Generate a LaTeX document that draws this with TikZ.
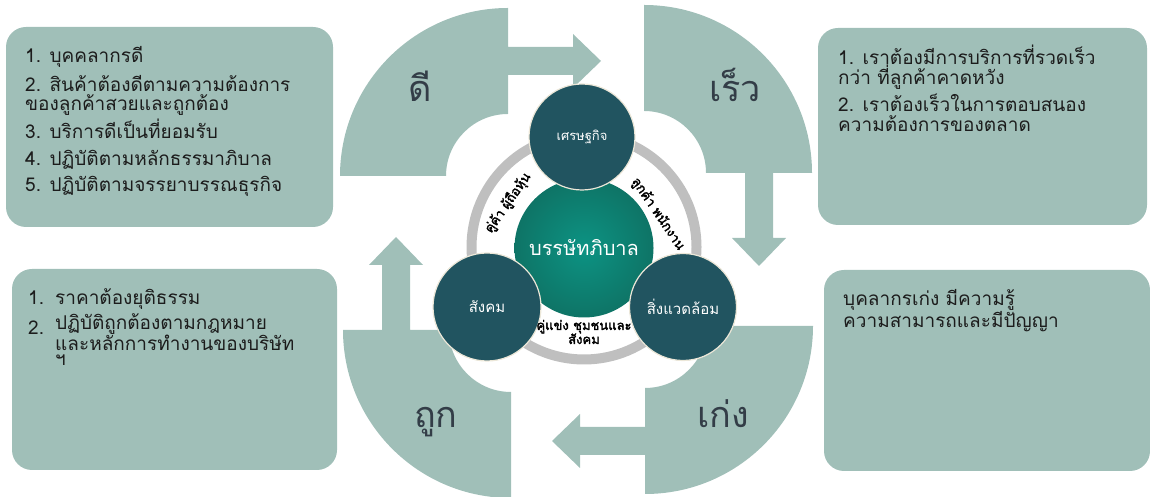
\documentclass[tikz,border=0pt]{standalone}
\usepackage{fontspec}
\newfontfamily\thaifont[Script=Thai]{Loma}
\newfontfamily\thaiheavy[Script=Thai, FakeBold=2.5]{Loma}
\definecolor{sage}{HTML}{A0BFB8}
\definecolor{deep}{HTML}{215460}
\definecolor{hubin}{HTML}{0C9383}
\definecolor{hubout}{HTML}{0E7466}
\definecolor{ringgray}{HTML}{BFBFBF}
\definecolor{ink}{HTML}{1C1C1C}
\definecolor{labelink}{HTML}{333D47}
\definecolor{rim}{HTML}{ECE7D8}
\tikzset{
  quad/.style={fill=sage},
  infobox/.style={fill=sage, rounded corners=20pt},
  item/.style={anchor=base west, align=left, inner sep=0pt, text=ink,
    font=\thaifont\fontsize{19}{19}\selectfont},
  biglabel/.style={anchor=base, inner sep=0pt, text=labelink,
    font=\thaifont\fontsize{36}{40}\selectfont},
  ball/.style={circle, fill=deep, draw=rim, line width=1.2pt, text=white,
    inner sep=0pt, font=\thaifont\fontsize{15}{17}\selectfont},
  ringtext/.style={align=center, inner sep=0pt, text=black,
    font=\thaiheavy\fontsize{13}{14}\selectfont}
}
\begin{document}
\begin{tikzpicture}[x=1pt, y=1pt]
    \useasboundingbox (0,0) rectangle (1150,497) ;
    \foreach \cx/\cy/\ang in {508/321/0, 644/324/-90, 645/171/180, 511/167/90}
      \fill[quad, shift={(\cx,\cy)}, rotate=\ang]
        (0,168) arc[start angle=90, end angle=180, radius=168]
        -- (-62,0) arc[start angle=180, end angle=90, radius=62]
        -- (0,101) -- (65,101) -- (65,88) -- (93,115) -- (65,142)
        -- (65,129) -- (0,129) -- cycle ;
    \node[biglabel] (good) at (420,395) {ดี} ;
    \node[biglabel] (fast) at (735,395) {เร็ว} ;
    \node[biglabel] (right) at (436,69) {ถูก} ;
    \node[biglabel] (skill) at (723,69) {เก่ง} ;
    \fill[infobox] (6,270) rectangle (333,470) ;
    \fill[infobox] (818,272) rectangle (1147,469) ;
    \fill[infobox] (12,27) rectangle (337,228) ;
    \fill[infobox] (824,26) rectangle (1150,227) ;
    \node[item] (g1) at (25,434) {1. บุคคลากรดี} ;
    \node[item] (g2) at (25,386) {2. สินค้าต้องดีตามความต้องการ\\ของลูกค้าสวยและถูกต้อง} ;
    \node[item] (g3) at (25,358) {3. บริการดีเป็นที่ยอมรับ} ;
    \node[item] (g4) at (25,331) {4. ปฏิบัติตามหลักธรรมาภิบาล} ;
    \node[item] (g5) at (25,305) {5. ปฏิบัติตามจรรยาบรรณธุรกิจ} ;
    \node[item, font=\thaifont\fontsize{19}{20}\selectfont] (f1) at (838,412)
      {1. เราต้องมีการบริการที่รวดเร็ว\\กว่า ที่ลูกค้าคาดหวัง} ;
    \node[item, font=\thaifont\fontsize{19}{20}\selectfont] (f2) at (838,365)
      {2. เราต้องเร็วในการตอบสนอง\\ความต้องการของตลาด} ;
    \node[item] (r1n) at (28,192) {1.} ;
    \node[item] (r1) at (55,192) {ราคาต้องยุติธรรม} ;
    \node[item] (r2n) at (28,162) {2.} ;
    \node[item, font=\thaifont\fontsize{19}{15.5}\selectfont] (r2) at (55,131)
      {ปฏิบัติถูกต้องตามกฎหมาย\\และหลักการทำงานของบริษัท\\ฯ} ;
    \node[item, font=\thaifont\fontsize{19}{21}\selectfont] (s1) at (843,169)
      {บุคลากรเก่ง มีความรู้\\ความสามารถและมีปัญญา} ;
    \draw[ringgray, line width=10pt] (584,250) circle (112.5) ;
    \node[circle, minimum size=139pt, inner sep=0pt, shading=radial,
      inner color=hubin, outer color=hubout, text=white,
      font=\thaifont\fontsize{20}{22}\selectfont] (hub) at (584,249) {บรรษัทภิบาล} ;
    \node[ball, minimum size=106pt, font=\thaifont\fontsize{13}{15}\selectfont] (econ) at (582,360) {เศรษฐกิจ} ;
    \node[ball, minimum size=108pt] (soc) at (487,190) {สังคม} ;
    \node[ball, minimum size=107pt] (env) at (683,190) {สิ่งแวดล้อม} ;
    \node[ringtext, rotate=55] (partner) at (508,294) {คู่ค้า ผู้ถือหุ้น} ;
    \node[ringtext, rotate=-56] (client) at (658,283) {ลูกค้า พนักงาน} ;
    \node[ringtext] (rival) at (584,165) {คู่แข่ง ชุมชนและ\\สังคม} ;
\end{tikzpicture}
\end{document}
